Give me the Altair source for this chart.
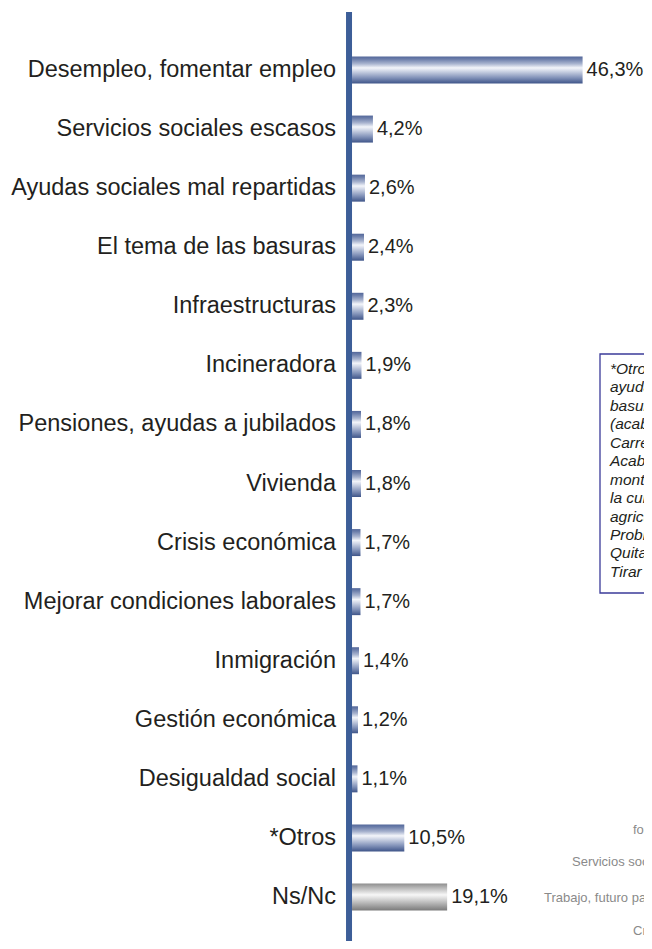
import altair as alt
import pandas as pd

# ---------------- data ----------------
categorias = [
    "Desempleo, fomentar empleo",
    "Servicios sociales escasos",
    "Ayudas sociales mal repartidas",
    "El tema de las basuras",
    "Infraestructuras",
    "Incineradora",
    "Pensiones, ayudas a jubilados",
    "Vivienda",
    "Crisis económica",
    "Mejorar condiciones laborales",
    "Inmigración",
    "Gestión económica",
    "Desigualdad social",
    "*Otros",
    "Ns/Nc",
]
valores = [46.3, 4.2, 2.6, 2.4, 2.3, 1.9, 1.8, 1.8, 1.7, 1.7, 1.4, 1.2, 1.1, 10.5, 19.1]
grupos = ["azul"] * 14 + ["gris"]
etiquetas = [f"{v:.1f}".replace(".", ",") + "%" for v in valores]

nota_otros = [
    "*Otros: Mejorar las",
    "ayudas a la dependencia,",
    "basuras en la calle",
    "(acabar con la suciedad),",
    "Carreteras en mal estado,",
    "Acabar con los incendios de",
    "montes, Fomentar el turismo",
    "la cultura, Apoyar la",
    "agricultura y ganadería,",
    "Problemas de seguridad,",
    "Quitar el peaje,",
    "Tirar la incineradora",
]

textos_grises = [
    "fomentar empleo",
    "Servicios sociales escasos",
    "Trabajo, futuro para los jóvenes",
    "Crisis económica",
]

df = pd.DataFrame({
    "categoria": categorias,
    "valor": valores,
    "grupo": grupos,
    "etiqueta": etiquetas,
})

W, H = 636, 933
FONT = "Liberation Sans"

grad_azul = alt.LinearGradient(
    gradient="linear", x1=0, x2=0, y1=0, y2=1,
    stops=[
        alt.GradientStop(offset=0.0, color="#53679a"),
        alt.GradientStop(offset=0.1, color="#6d7fab"),
        alt.GradientStop(offset=0.27, color="#a9b4cf"),
        alt.GradientStop(offset=0.42, color="#f3f5fa"),
        alt.GradientStop(offset=0.55, color="#ccd3e4"),
        alt.GradientStop(offset=0.78, color="#8494ba"),
        alt.GradientStop(offset=1.0, color="#3f5589"),
    ],
)
grad_gris = alt.LinearGradient(
    gradient="linear", x1=0, x2=0, y1=0, y2=1,
    stops=[
        alt.GradientStop(offset=0.0, color="#8e8e8e"),
        alt.GradientStop(offset=0.12, color="#adadad"),
        alt.GradientStop(offset=0.42, color="#f7f7f7"),
        alt.GradientStop(offset=0.6, color="#d2d2d2"),
        alt.GradientStop(offset=1.0, color="#7a7a7a"),
    ],
)

x_scale = alt.Scale(domain=[-69.08, 58.63], nice=False, zero=False)
y_enc = alt.Y(
    "categoria:N", sort=categorias, axis=None,
    scale=alt.Scale(range=[48.5, 902.5], paddingInner=0.543, paddingOuter=0),
)

base = alt.Chart(df)

barras_azul = base.transform_filter(alt.datum.grupo == "azul").mark_bar(
    color=grad_azul
).encode(
    x=alt.X("valor:Q", scale=x_scale, axis=None),
    x2=alt.datum(0),
    y=y_enc,
)
barras_gris = base.transform_filter(alt.datum.grupo == "gris").mark_bar(
    color=grad_gris
).encode(
    x=alt.X("valor:Q", scale=x_scale, axis=None),
    x2=alt.datum(0),
    y=y_enc,
)

etiq_cat = base.mark_text(
    align="right", baseline="middle", dx=-16, fontSize=23.5, font=FONT, color="#231f20"
).encode(x=alt.datum(0), y=y_enc, text="categoria:N")

etiq_val = base.mark_text(
    align="left", baseline="middle", dx=4, fontSize=20, font=FONT, color="#231f20"
).encode(x=alt.X("valor:Q", scale=x_scale, axis=None), y=y_enc, text="etiqueta:N")

uno = alt.Chart(pd.DataFrame({"k": [0]}))

eje = uno.mark_rule(color="#3d5e98", strokeWidth=6, xOffset=-3).encode(
    x=alt.datum(0), y=alt.value(4), y2=alt.value(H)
)

caja = uno.mark_rect(fill="white", stroke="#3b3b99", strokeWidth=1.3, clip=True).encode(
    x=alt.value(592), x2=alt.value(760), y=alt.value(346), y2=alt.value(585)
)
caja_texto = uno.mark_text(
    align="left", baseline="top", fontSize=15.5, font=FONT, fontStyle="italic",
    color="#231f20", lineBreak="\n", lineHeight=18.45, clip=True,
).encode(x=alt.value(602), y=alt.value(354), text=alt.value("\n".join(nota_otros)))

pos_grises = [(625, 822), (564, 854), (536, 890), (625, 923)]
grises = [
    uno.mark_text(
        align="left", baseline="middle", fontSize=13, font=FONT, color="#8a8a8a", clip=True
    ).encode(x=alt.value(px), y=alt.value(py), text=alt.value(t))
    for t, (px, py) in zip(textos_grises, pos_grises)
]

chart = alt.layer(
    barras_azul, barras_gris, eje, etiq_cat, etiq_val, caja, caja_texto, *grises
).properties(
    width=W, height=H, padding=0, autosize=alt.AutoSizeParams(type="none")
).configure_view(stroke=None).configure_axis(disable=True)

chart.save("out.html", embed_options={"renderer": "svg", "actions": False})
